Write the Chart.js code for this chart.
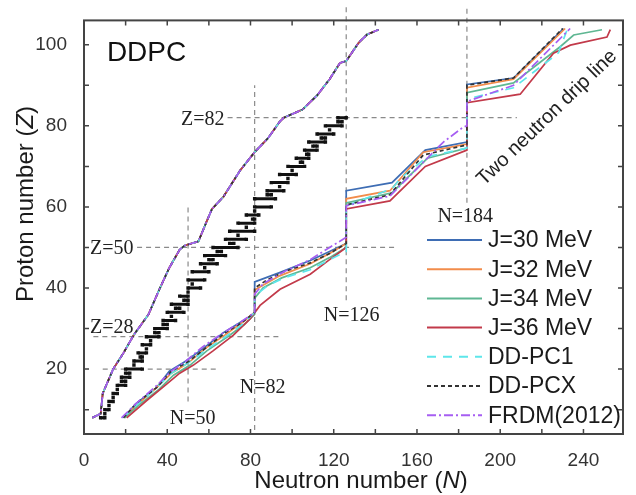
<!DOCTYPE html>
<html><head><meta charset="utf-8">
<script src="https://cdn.jsdelivr.net/npm/chart.js@4"></script>
<style>html,body{margin:0;padding:0;background:#fff}</style>
</head><body>
<canvas id="c" width="636" height="495"></canvas>
<script>
// ---------- DATA ----------
const xTickValues = [0,20,40,60,80,100,120,140,160,180,200,220,240];
const yTickValues = [10,20,30,40,50,60,70,80,90,100];

// proton drip line (all models overlap)
const protonDripN = [4, 8, 9, 14, 19, 24, 31, 36.5, 41, 46, 48.5, 55, 59, 61.5, 67, 75, 82, 88.5, 94, 96, 105, 112, 118, 123, 126, 132, 136, 141.5];
const protonDripZ = [8, 9, 14, 20, 24, 28.5, 33.5, 40, 45, 49.5, 50.5, 51.5, 56.5, 59.5, 62.5, 69, 73.5, 77, 81, 82, 84, 87.5, 91.5, 95.5, 96, 100.5, 102.5, 103.7];

// two-neutron drip lines
const dripJ30N = [19, 25, 35, 41, 49, 57, 67, 75, 81.5, 82, 82, 94, 108.7, 118, 126, 126, 148, 164, 184, 184, 206.4, 230.4];
const dripJ30Z = [8, 11.5, 15.5, 19.5, 22, 25, 29, 31.5, 33.5, 34, 41.5, 43.8, 46.8, 49, 51, 64, 66, 74, 76, 90.2, 91.8, 104];

const dripJ32N = [19, 25, 35, 42, 50, 58, 68, 76, 82, 82, 94, 108.7, 118, 126, 126, 147, 163, 184, 184, 206.4, 231.2];
const dripJ32Z = [8, 11, 15.5, 19, 21.5, 25, 28.5, 31.5, 34, 39.5, 43, 46, 48.5, 51, 62, 64, 73.5, 75.5, 89.4, 91.5, 104];

const dripJ34N = [19.5, 26, 36, 43, 51, 59, 69, 77, 82, 82, 86, 95, 108.7, 118, 126, 126, 148, 165, 184, 184, 206.4, 228.8, 235.3, 248.9];
const dripJ34Z = [8, 11, 15, 18.5, 21, 24.5, 28, 31, 33.5, 37.5, 40, 42.5, 45, 47.5, 50, 61, 63.5, 72, 74.5, 88.2, 90.6, 99.5, 102.4, 103.7];

const dripJ36N = [20.5, 30, 39.7, 46, 52.6, 62, 71.8, 79.8, 84.6, 94.2, 108.7, 118, 126, 126, 147, 164, 184, 184, 209.6, 225.6, 233.7, 251.3, 252.9];
const dripJ36Z = [8, 12.2, 16.3, 19, 21, 24.5, 28.4, 32.4, 35.7, 39.7, 43.4, 47, 50, 59.5, 61.5, 70, 74, 85.7, 87.8, 97.9, 99.9, 101.9, 103.7];

const dripPC1N = [18.5, 25, 35, 42, 50, 58, 68, 76, 82, 82, 88, 96, 108.7, 118, 126, 126, 148, 152, 165, 184, 184, 206.4, 228, 232, 233];
const dripPC1Z = [8, 11, 15.5, 19, 21.5, 24.5, 28, 31, 34, 38, 40.5, 42.5, 44.5, 47, 49, 60.3, 64.5, 67, 72.4, 74.5, 86.6, 89.4, 98, 103.5, 104];

const dripPCXN = [19, 25, 35, 42, 50, 58, 68, 76, 82, 82, 88, 96, 108.7, 118, 126, 126, 147, 163, 184, 184, 206.4, 230];
const dripPCXZ = [8, 11.5, 15.5, 19.5, 21.8, 25, 29, 31.5, 34, 40, 42, 44, 46.2, 48.5, 51, 60.5, 63, 72.8, 75.3, 90, 91.8, 104];

const dripFRDMN = [18, 25, 35, 42, 49, 57, 67, 75, 82, 82, 86, 96, 108.7, 118, 126, 126, 147, 168, 172.7, 182.3, 184, 184, 206.4, 233.6];
const dripFRDMZ = [8, 11.5, 16, 19.5, 22, 25.5, 29, 31.5, 34, 38.5, 41, 44, 47, 50, 52.5, 60.3, 62.7, 73.6, 76, 79.7, 80, 86, 90, 104];

const seriesLabels = ['J=30 MeV', 'J=32 MeV', 'J=34 MeV', 'J=36 MeV', 'DD-PC1', 'DD-PCX', 'FRDM(2012)'];

// stable nuclei: Z with lightest and heaviest stable N
const stableZ    = [8, 9,10,11,12,13,14,15,16,17,18,19,20,21,22,23,24,25,26,27,28,29,30,31,32,33,34,35,36,37,38,39,40,41,42,44,45,46,47,48,49,50,51,52,53,54,55,56,57,58,59,60,62,63,64,65,66,67,68,69,70,71,72,73,74,75,76,77,78,79,80,81,82];
const stableNmin = [8,10,10,12,12,14,14,16,16,18,18,20,20,24,24,27,26,30,28,32,30,34,34,38,38,42,40,44,42,48,46,50,50,52,50,52,58,56,60,58,64,62,70,68,74,70,78,74,81,78,82,82,82,88,88,94,90,98,94,100,98,104,102,107,106,110,108,114,112,118,116,122,122];
const stableNmax = [10,10,12,12,14,14,16,16,20,20,22,22,28,24,28,28,30,30,32,32,36,36,40,40,44,42,48,46,50,50,50,50,56,52,58,60,58,64,62,68,66,74,72,78,74,82,78,82,82,84,82,90,92,90,96,94,98,98,102,100,106,105,108,108,112,112,116,116,120,118,124,124,126];

// ---------- BUILD ----------
const colors = ['#3e6db4', '#f28c4b', '#5fb793', '#c23a4a', '#5de6ea', '#333333', '#a65ef2'];
const dashes = [[], [], [], [], [9, 7], [4, 3], [9, 3, 2, 3]];
const dripN = [dripJ30N, dripJ32N, dripJ34N, dripJ36N, dripPC1N, dripPCXN, dripFRDMN];
const dripZ = [dripJ30Z, dripJ32Z, dripJ34Z, dripJ36Z, dripPC1Z, dripPCXZ, dripFRDMZ];

function buildLine(nn, zz) {
  const pts = protonDripN.map((n, i) => ({x: n, y: protonDripZ[i]}));
  pts.push({x: protonDripN[protonDripN.length - 1], y: null});
  nn.forEach((n, i) => pts.push({x: n, y: zz[i]}));
  return pts;
}
const stablePts = [];
stableZ.forEach((z, i) => {
  stablePts.push({x: stableNmin[i], y: z});
  if (stableNmax[i] !== stableNmin[i]) stablePts.push({x: stableNmax[i], y: z});
  stablePts.push({x: stableNmax[i], y: null});
});

const datasets = [{
  label: 'stable', data: stablePts, showLine: true, borderColor: '#111', backgroundColor: '#111',
  borderWidth: 3, pointStyle: 'rect', pointRadius: 2.4, pointBorderWidth: 0, order: 10, spanGaps: false
}];
seriesLabels.forEach((lab, i) => {
  datasets.push({
    label: lab, data: buildLine(dripN[i], dripZ[i]), showLine: true, spanGaps: false,
    borderColor: colors[i], backgroundColor: colors[i], borderWidth: 1.7,
    borderDash: dashes[i], pointRadius: 0, order: 7 - i
  });
});

// reference guide lines (data units)
const guides = [
  {axis: 'x', v: 50, a: 12, b: 60},
  {axis: 'x', v: 82, a: 5, b: 90},
  {axis: 'x', v: 126, a: 37, b: 109.5},
  {axis: 'x', v: 184, a: 61, b: 109.5},
  {axis: 'y', v: 82, a: 69, b: 208},
  {axis: 'y', v: 50, a: 25.5, b: 150.5},
  {axis: 'y', v: 28, a: 4.5, b: 94},
  {axis: 'y', v: 20, a: 9, b: 64.5}
];
const guideLabels = [
  {t: 'Z=82', n: 67.5, z: 81.4, align: 'right'},
  {t: 'Z=50', n: 23.8, z: 49.6, align: 'right'},
  {t: 'Z=28', n: 23.8, z: 30.2, align: 'right'},
  {t: 'N=50', n: 52.2, z: 7.8, align: 'center'},
  {t: 'N=82', n: 85.8, z: 15.3, align: 'center'},
  {t: 'N=126', n: 128.6, z: 33.2, align: 'center'},
  {t: 'N=184', n: 183.2, z: 57.5, align: 'center'}
];

const guidePlugin = {
  id: 'guides',
  beforeDatasetsDraw(chart) {
    const {ctx, scales: {x, y}} = chart;
    ctx.save();
    ctx.strokeStyle = '#8a8a8a';
    ctx.lineWidth = 1.2;
    ctx.setLineDash([5, 4]);
    guides.forEach(g => {
      ctx.beginPath();
      if (g.axis === 'x') {
        const px = x.getPixelForValue(g.v);
        ctx.moveTo(px, y.getPixelForValue(g.a));
        ctx.lineTo(px, Math.max(0, y.getPixelForValue(g.b)));
      } else {
        const py = y.getPixelForValue(g.v);
        ctx.moveTo(x.getPixelForValue(g.a), py);
        ctx.lineTo(x.getPixelForValue(g.b), py);
      }
      ctx.stroke();
    });
    ctx.restore();
  }
};

const decorPlugin = {
  id: 'decor',
  afterDraw(chart) {
    const {ctx, chartArea: ca, scales: {x, y}} = chart;
    ctx.save();
    // frame
    ctx.strokeStyle = '#444';
    ctx.lineWidth = 2;
    ctx.strokeRect(ca.left, ca.top, ca.right - ca.left, ca.bottom - ca.top);
    // inward ticks
    ctx.lineWidth = 1.5;
    ctx.beginPath();
    xTickValues.forEach(v => {
      const px = x.getPixelForValue(v);
      ctx.moveTo(px, ca.bottom); ctx.lineTo(px, ca.bottom - 5);
      ctx.moveTo(px, ca.top); ctx.lineTo(px, ca.top + 5);
    });
    yTickValues.forEach(v => {
      const py = y.getPixelForValue(v);
      ctx.moveTo(ca.left, py); ctx.lineTo(ca.left + 5, py);
      ctx.moveTo(ca.right, py); ctx.lineTo(ca.right - 5, py);
    });
    ctx.stroke();

    // guide labels
    ctx.fillStyle = '#222';
    ctx.font = '20px "Liberation Serif", "Times New Roman", serif';
    ctx.textBaseline = 'middle';
    guideLabels.forEach(l => {
      ctx.textAlign = l.align;
      ctx.fillText(l.t, x.getPixelForValue(l.n), y.getPixelForValue(l.z));
    });

    // DDPC
    ctx.font = '28px "Liberation Sans", Arial, sans-serif';
    ctx.textAlign = 'left';
    ctx.fillStyle = '#111';
    ctx.fillText('DDPC', x.getPixelForValue(11), y.getPixelForValue(97.8));

    // rotated annotation
    ctx.save();
    ctx.translate(x.getPixelForValue(222.5), y.getPixelForValue(82));
    ctx.rotate(-44 * Math.PI / 180);
    ctx.font = '20px "Liberation Sans", Arial, sans-serif';
    ctx.textAlign = 'center';
    ctx.fillStyle = '#222';
    ctx.fillText('Two neutron drip line', 0, 0);
    ctx.restore();

    // legend
    const lx0 = 427, lx1 = 482, ly0 = 240, dy = 29.2;
    ctx.font = '23px "Liberation Sans", Arial, sans-serif';
    ctx.textAlign = 'left';
    ctx.textBaseline = 'middle';
    chart.data.datasets.slice(1).forEach((ds, i) => {
      const yy = ly0 + i * dy;
      ctx.save();
      ctx.strokeStyle = ds.borderColor;
      ctx.lineWidth = 2;
      ctx.setLineDash(ds.borderDash || []);
      ctx.beginPath(); ctx.moveTo(lx0, yy); ctx.lineTo(lx1, yy); ctx.stroke();
      ctx.restore();
      ctx.fillStyle = '#1a1a1a';
      ctx.fillText(ds.label, 488, yy + 1);
    });

    // axis titles
    ctx.fillStyle = '#1a1a1a';
    ctx.textBaseline = 'middle';
    const fN = '24px "Liberation Sans", Arial, sans-serif';
    const fI = 'italic 24px "Liberation Sans", Arial, sans-serif';
    const drawMixed = (parts, cx, cy) => {
      let w = 0;
      parts.forEach(p => { ctx.font = p[1]; w += ctx.measureText(p[0]).width; });
      let xx = cx - w / 2;
      ctx.textAlign = 'left';
      parts.forEach(p => { ctx.font = p[1]; ctx.fillText(p[0], xx, cy); xx += ctx.measureText(p[0]).width; });
    };
    drawMixed([['Neutron number (', fN], ['N', fI], [')', fN]], 361, 481);
    ctx.save();
    ctx.translate(26, 204);
    ctx.rotate(-Math.PI / 2);
    drawMixed([['Proton number (', fN], ['Z', fI], [')', fN]], 0, 0);
    ctx.restore();
    ctx.restore();
  }
};

new Chart(document.getElementById('c').getContext('2d'), {
  type: 'scatter',
  data: {datasets},
  options: {
    responsive: false, animation: false, devicePixelRatio: 1,
    layout: {padding: {left: 0, right: 13, top: 14, bottom: 0}},
    plugins: {legend: {display: false}, tooltip: {enabled: false}},
    scales: {
      x: {
        type: 'linear', min: 0, max: 259,
        grid: {display: false}, border: {display: false},
        afterBuildTicks: s => { s.ticks = xTickValues.map(v => ({value: v})); },
        ticks: {callback: v => (v % 40 === 0 ? String(v) : ''), autoSkip: false, maxRotation: 0,
                font: {family: '"Liberation Sans", Arial, sans-serif', size: 19}, color: '#333', padding: 7},
        afterFit: s => { s.height = 61; }
      },
      y: {
        type: 'linear', min: 4, max: 106,
        grid: {display: false}, border: {display: false},
        afterBuildTicks: s => { s.ticks = yTickValues.map(v => ({value: v})); },
        ticks: {callback: v => (v % 20 === 0 ? String(v) : ''), autoSkip: false,
                font: {family: '"Liberation Sans", Arial, sans-serif', size: 19}, color: '#333', padding: 9},
        afterFit: s => { s.width = 84; }
      }
    }
  },
  plugins: [guidePlugin, decorPlugin]
});
</script>
</body></html>
